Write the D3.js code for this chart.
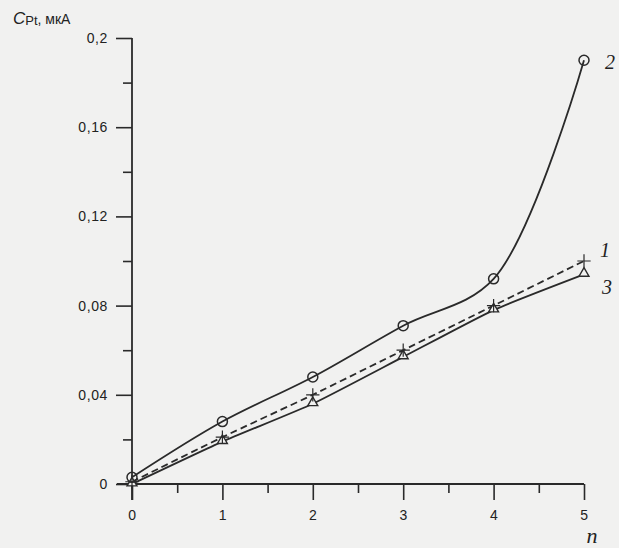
<!DOCTYPE html>
<html>
<head>
<meta charset="utf-8">
<script src="https://cdn.jsdelivr.net/npm/d3@7"></script>
<style>
  html, body { margin: 0; padding: 0; background: #f1f1f0; }
  svg { display: block; }
  .tick line { stroke: #2a2a2a; stroke-width: 1.6; }
</style>
</head>
<body>
<div id="chart"></div>
<script>
  // n (number of cycles) and the three curves, Cpt in mkA
  const N_VALUES = [0, 1, 2, 3, 4, 5];
  const CURVE_1 = [0.001, 0.021, 0.040, 0.060, 0.080, 0.100];
  const CURVE_2 = [0.003, 0.028, 0.048, 0.071, 0.092, 0.190];
  const CURVE_3 = [0.000, 0.019, 0.036, 0.057, 0.078, 0.094];
  const Y_TICKS = [0, 0.04, 0.08, 0.12, 0.16, 0.2];
  const Y_MINOR = [0.02, 0.06, 0.1, 0.14, 0.18];
  const X_TICKS = [0, 1, 2, 3, 4, 5];
  const X_MINOR = [0.5, 1.5, 2.5, 3.5, 4.5];
  const CURVE_LABELS = ['1', '2', '3'];

  var width = 619;
  var height = 548;
  var ink = '#2a2a2a';
  var sans = '"Liberation Sans", Arial, sans-serif';
  var serif = '"Liberation Serif", "DejaVu Serif", serif';

  var svg = d3.select('#chart').append('svg')
    .attr('width', width)
    .attr('height', height);

  var x = d3.scaleLinear().domain([0, 5]).range([132, 584]);
  var y = d3.scaleLinear().domain([0, 0.2]).range([484, 38]);

  function comma(d) {
    return d === 0 ? '0' : String(d).replace('.', ',');
  }

  function styleTicks(g) {
    g.selectAll('.domain').remove();
    g.selectAll('text')
      .style('font-family', sans)
      .style('font-size', '14px')
      .style('letter-spacing', '0.6px')
      .style('fill', '#222');
  }

  // y axis
  var yAxis = svg.append('g').attr('transform', 'translate(' + x(0) + ',0)');
  yAxis.call(d3.axisLeft(y).tickValues(Y_TICKS).tickSize(16).tickPadding(8).tickFormat(comma));
  yAxis.append('g').call(d3.axisLeft(y).tickValues(Y_MINOR).tickSize(9).tickFormat(''));
  styleTicks(yAxis);
  svg.append('line')
    .attr('x1', x(0)).attr('x2', x(0))
    .attr('y1', y(0.2)).attr('y2', y(0) + 16)
    .attr('stroke', ink).attr('stroke-width', 1.8);

  // x axis
  var xAxis = svg.append('g').attr('transform', 'translate(0,' + y(0) + ')');
  xAxis.call(d3.axisBottom(x).tickValues(X_TICKS).tickSize(16).tickPadding(10).tickFormat(d3.format('d')));
  xAxis.append('g').call(d3.axisBottom(x).tickValues(X_MINOR).tickSize(9).tickFormat(''));
  styleTicks(xAxis);
  svg.append('line')
    .attr('x1', x(0) - 15).attr('x2', x(5))
    .attr('y1', y(0)).attr('y2', y(0))
    .attr('stroke', ink).attr('stroke-width', 1.8);

  // curves
  var line = d3.line()
    .x(function (d, i) { return x(N_VALUES[i]); })
    .y(function (d) { return y(d); })
    .curve(d3.curveCardinal.tension(0.5));

  var line2 = d3.line()
    .x(function (d, i) { return x(N_VALUES[i]); })
    .y(function (d) { return y(d); })
    .curve(d3.curveCatmullRom.alpha(0.5));

  svg.append('path').datum(CURVE_3)
    .attr('d', line).attr('fill', 'none')
    .attr('stroke', ink).attr('stroke-width', 1.8);

  svg.append('path').datum(CURVE_1)
    .attr('d', line).attr('fill', 'none')
    .attr('stroke', ink).attr('stroke-width', 1.8)
    .attr('stroke-dasharray', '7,4');

  svg.append('path').datum(CURVE_2)
    .attr('d', line2).attr('fill', 'none')
    .attr('stroke', ink).attr('stroke-width', 1.8);

  // markers
  var tri = d3.symbolTriangle2 || d3.symbolTriangle;
  svg.selectAll('.tri').data(CURVE_3).enter().append('path')
    .attr('class', 'tri')
    .attr('transform', function (d, i) { return 'translate(' + x(N_VALUES[i]) + ',' + (y(d) - 1) + ')'; })
    .attr('d', d3.symbol().type(tri).size(70))
    .attr('fill', '#f1f1f0').attr('stroke', ink).attr('stroke-width', 1.4);

  var plus = d3.symbolPlus || d3.symbolCross;
  svg.selectAll('.plus').data(CURVE_1).enter().append('path')
    .attr('class', 'plus')
    .attr('transform', function (d, i) { return 'translate(' + x(N_VALUES[i]) + ',' + y(d) + ')'; })
    .attr('d', d3.symbol().type(plus).size(60))
    .attr('fill', 'none').attr('stroke', ink).attr('stroke-width', 1.2);

  svg.selectAll('.circ').data(CURVE_2).enter().append('circle')
    .attr('class', 'circ')
    .attr('cx', function (d, i) { return x(N_VALUES[i]); })
    .attr('cy', function (d) { return y(d); })
    .attr('r', 5)
    .attr('fill', 'none').attr('stroke', ink).attr('stroke-width', 1.5);

  // curve labels
  var labelPos = [[605, 257], [610, 69], [607, 294]];
  CURVE_LABELS.forEach(function (t, i) {
    svg.append('text')
      .attr('x', labelPos[i][0]).attr('y', labelPos[i][1])
      .attr('text-anchor', 'middle')
      .style('font-family', serif).style('font-style', 'italic')
      .style('font-size', '20px').style('fill', '#222')
      .text(t);
  });

  // axis titles
  svg.append('text')
    .attr('x', 592).attr('y', 543)
    .attr('text-anchor', 'middle')
    .style('font-family', serif).style('font-style', 'italic')
    .style('font-size', '22px').style('fill', '#222')
    .text('n');

  var yTitle = svg.append('text')
    .attr('x', 13).attr('y', 24)
    .style('font-family', sans)
    .style('fill', '#222');
  yTitle.append('tspan').style('font-size', '17px').style('font-style', 'italic').text('C');
  yTitle.append('tspan').style('font-size', '13px').attr('dy', 1).text('Pt');
  yTitle.append('tspan').style('font-size', '14px').attr('dy', -1).text(', мкА');
</script>
</body>
</html>
